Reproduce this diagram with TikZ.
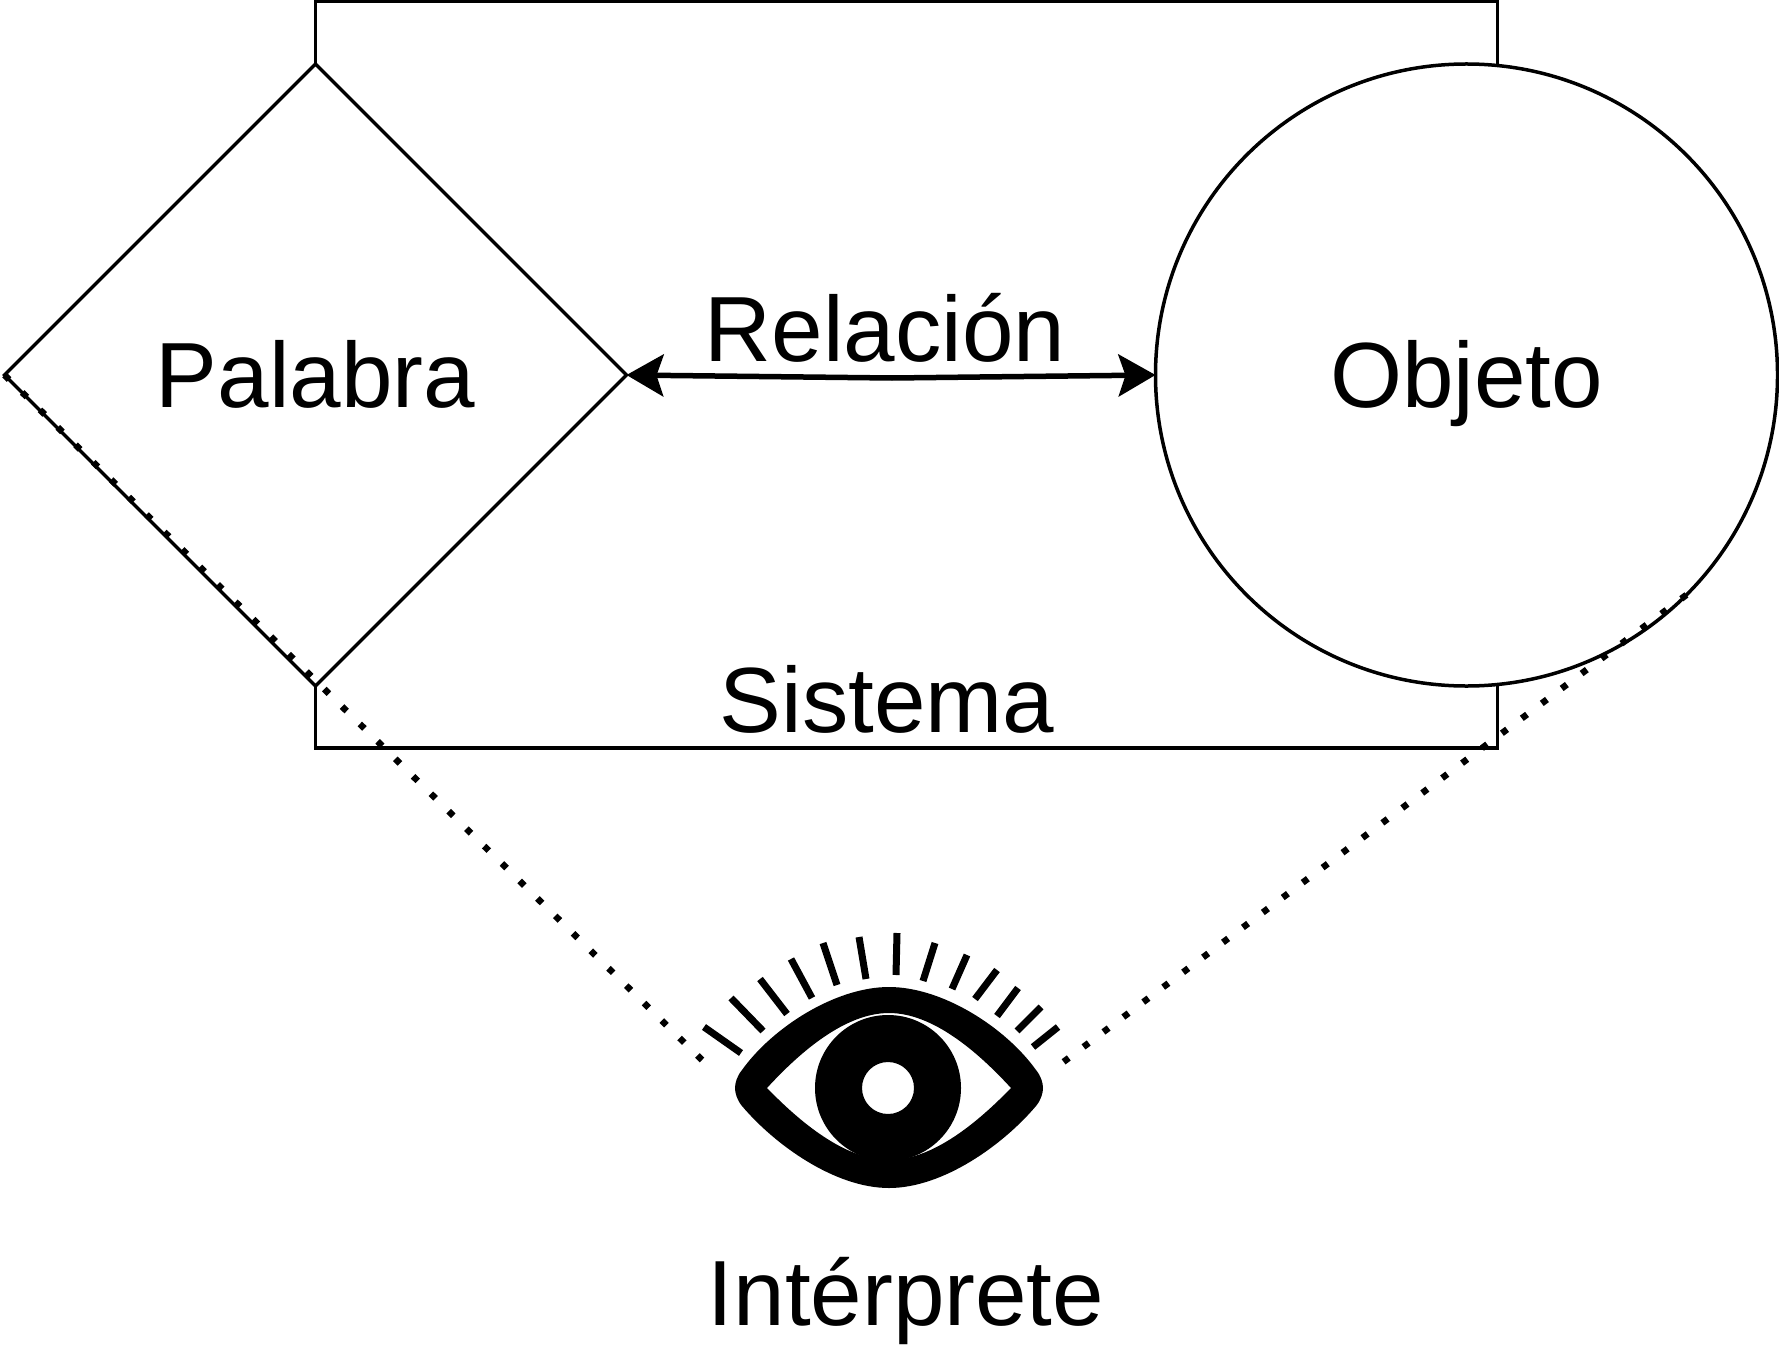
\documentclass[tikz,border=0pt]{standalone}
\usepackage{fontspec}
\setmainfont{Liberation Sans}
\usetikzlibrary{arrows.meta,shapes.geometric}

\tikzset{
  thing/.style={draw,fill=white,line width=.7mm,inner sep=0pt,outer sep=0pt,text depth=.4mm},
  label/.style={anchor=base,inner sep=0pt},
  sightline/.style={line width=1.3mm,dash pattern=on 1.3mm off 3.68mm},
  relarrow/.style={line width=1.1mm,{Stealth[length=7.4mm,width=8.4mm,inset=1.4mm]}-{Stealth[length=7.4mm,width=8.4mm,inset=1.4mm]}},
  lash/.style={line width=1.4mm},
}

\begin{document}
\begin{tikzpicture}[x=.2mm,y=-.2mm,font=\fontsize{52.7}{60}\selectfont]
  \useasboundingbox (0,0) rectangle (1779,1350);
  \draw[line width=.7mm] (315.5,1) rectangle (1497.5,748);
  \node[thing,diamond,aspect=1,minimum width=124.4mm,minimum height=124.4mm] (palabra) at (315.5,375) {Palabra};
  \node[thing,circle,minimum size=124.4mm] (objeto) at (1466.5,375) {Objeto};
  \coordinate (relmid) at (892,378);
  \coordinate (eyeleft) at (703,1061);
  \coordinate (eyeright) at (1062,1063);
  \draw[relarrow] (palabra.east) -- (relmid) -- (objeto.west);
  \draw[sightline] (palabra.west) -- (eyeleft);
  \draw[sightline] (objeto.south east) -- (eyeright);
  \node[label] (relacion) at (885,361) {Relación};
  \node[label] (sistema) at (887,732) {Sistema};
  \node[label] (interprete) at (906,1325) {Intérprete};
  % lid, outer contour then inner contour
  \fill[even odd rule] (735,1088)
    .. controls (735,1083) and (737,1076) .. (742,1070)
    .. controls (772,1028) and (835,987) .. (889,987)
    .. controls (943,987) and (1006,1028) .. (1036,1070)
    .. controls (1041,1076) and (1043,1083) .. (1043,1088)
    .. controls (1043,1093) and (1041,1100) .. (1036,1106)
    .. controls (1003,1145) and (943,1188) .. (889,1188)
    .. controls (835,1188) and (775,1145) .. (742,1106)
    .. controls (737,1100) and (735,1093) .. (735,1088) -- cycle
    (767,1088)
    .. controls (800,1052) and (845,1013) .. (889,1013)
    .. controls (933,1013) and (978,1052) .. (1011,1088)
    .. controls (978,1122) and (933,1160) .. (889,1160)
    .. controls (845,1160) and (800,1122) .. (767,1088) -- cycle;
  \fill[even odd rule] (888,1088) circle[radius=73] circle[radius=26];
  \foreach \xa/\ya/\xb/\yb in {704/1027/741/1053,731/998/763/1031,760/979/787/1014,791/959/812/998,
    823/943/837/985,859/937/866/979,897/933/896/975,935/943/923/981,967/955/952/989,
    997/970/975/999,1018/988/997/1016,1041/1007/1017/1031,1058/1027/1033/1047}{
    \draw[lash] (\xa,\ya) -- (\xb,\yb);}
\end{tikzpicture}
\end{document}
